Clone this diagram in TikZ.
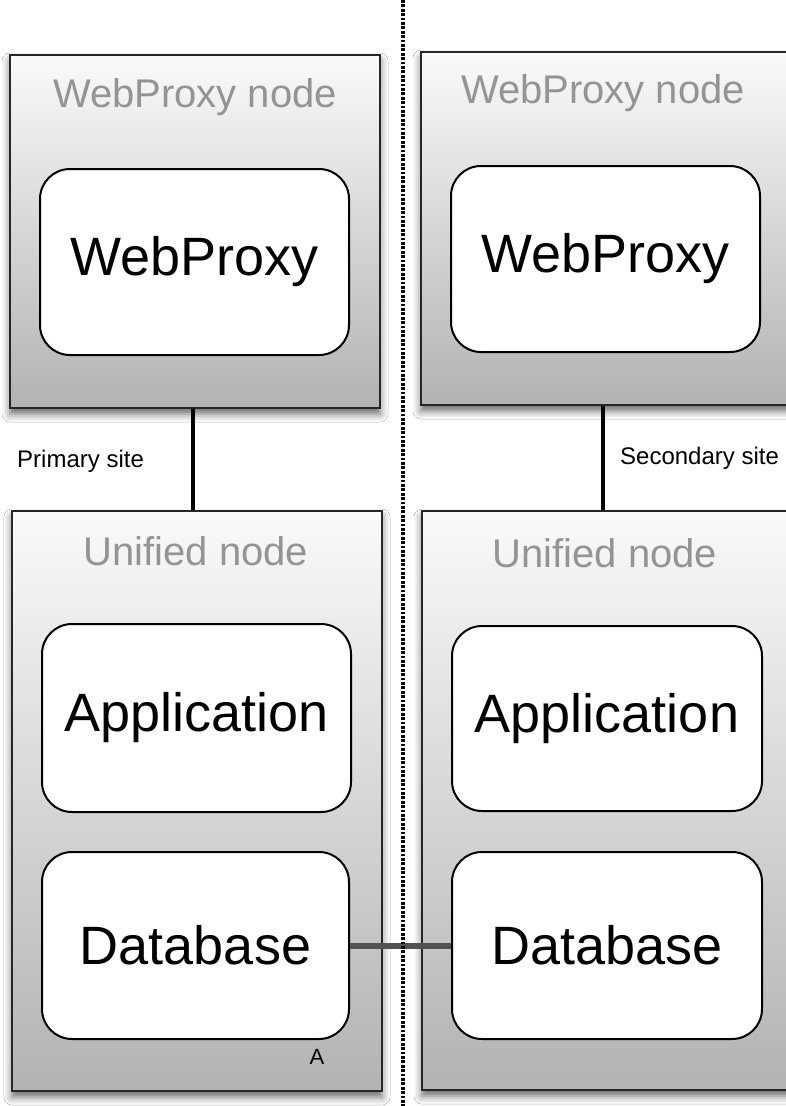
\documentclass[tikz,border=0pt]{standalone}
\usepackage{fontspec}
\setmainfont{Liberation Sans}
\usetikzlibrary{shadows.blur}
\tikzset{
  hostbox/.style={draw=black!85, line width=2.5pt, top color=black!2, bottom color=black!30,
    minimum width=370pt, minimum height=#1, inner sep=0pt,
    blur shadow={shadow xshift=0pt, shadow yshift=-6pt, shadow blur radius=8pt, shadow opacity=60}},
  svcbox/.style={draw=black, line width=2pt, fill=white, rounded corners=30pt,
    minimum width=309pt, minimum height=#1, inner sep=0pt, font=\fontsize{54}{60}\selectfont},
  hostlabel/.style={text=black!42, font=\fontsize{40}{46}\selectfont, inner sep=0pt},
  sitelabel/.style={text=black, font=\fontsize{24}{29}\selectfont, inner sep=0pt, anchor=west},
  link/.style={draw=black, line width=4pt},
  dblink/.style={draw=black!68, line width=6pt},
  divider/.style={draw=black, line width=3.2pt, dash pattern=on 2.8pt off 1.6pt}
}
\begin{document}
\begin{tikzpicture}[x=1pt,y=-1pt]
\useasboundingbox (0,0) rectangle (786,1106);
\clip (0,0) rectangle (786,1106);
\fill[white] (0,0) rectangle (786,1106);
% outer hosts
\node[hostbox=353pt] (lwp) at (195,231.5) {};
\node[hostbox=353pt] (rwp) at (606,228.5) {};
\node[hostbox=580pt] (lun) at (197,801) {};
\node[hostbox=579pt] (run) at (607,800.5) {};
% host labels
\node[hostlabel] (lwpl) at (195,97) {WebProxy node};
\node[hostlabel] (rwpl) at (603,93) {WebProxy node};
\node[hostlabel] (lunl) at (196,551) {Unified node};
\node[hostlabel] (runl) at (605,553) {Unified node};
% connectors
\coordinate (lx) at (193,0);
\coordinate (rx) at (603,0);
\draw[link] (lwp.south -| lx) -- (lun.north -| lx);
\draw[link] (rwp.south -| rx) -- (run.north -| rx);
% services
\node[svcbox=186pt] (lwps) at (194.5,262) {WebProxy};
\node[svcbox=186pt] (rwps) at (605.5,259) {WebProxy};
\node[svcbox=188pt] (lapp) at (196.5,718) {Application};
\node[svcbox=187pt, minimum width=307pt] (ldb) at (195.5,945.5) {Database};
\node[svcbox=185pt, minimum width=310pt] (rapp) at (607,718.5) {Application};
\node[svcbox=187pt, minimum width=310pt] (rdb) at (607,945.5) {Database};
% site labels
\node[sitelabel] (psite) at (17,461) {Primary site};
\node[sitelabel] (ssite) at (620,458) {Secondary site};
\node[font=\fontsize{22}{26}\selectfont, inner sep=0pt] (amark) at (317,1057) {A};
% database replication
\draw[dblink] (ldb.east) -- (rdb.west);
% divider
\coordinate (dtop) at (403,0);
\coordinate (dbot) at (403,1106);
\draw[divider] (dtop) -- (dbot);
\end{tikzpicture}
\end{document}
